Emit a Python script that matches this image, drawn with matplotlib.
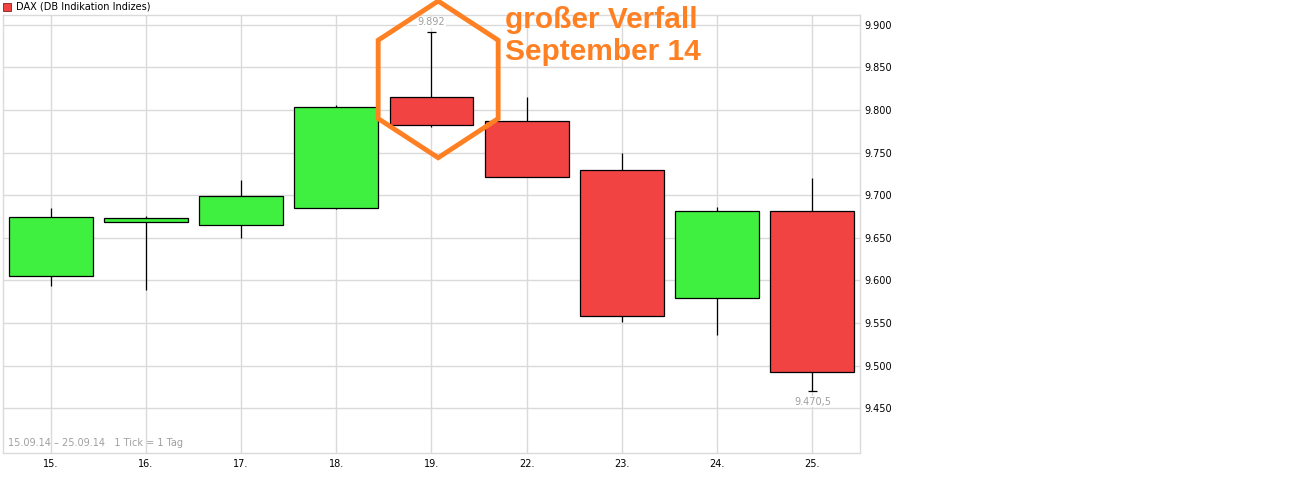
import matplotlib
matplotlib.use("Agg")
import matplotlib.pyplot as plt
from matplotlib.patches import Rectangle, Polygon
from matplotlib.ticker import FuncFormatter, FixedLocator

# DAX daily candles, 15.09.14 - 25.09.14
days = ["15.", "16.", "17.", "18.", "19.", "22.", "23.", "24.", "25."]
opens = [9605, 9669, 9665, 9685, 9815, 9787, 9730, 9579, 9681]
highs = [9685, 9675.5, 9718, 9806, 9892, 9815, 9749.5, 9686, 9720]
lows = [9593.5, 9589, 9650, 9684, 9780, 9721, 9551.5, 9536, 9470.5]
closes = [9674, 9673, 9699, 9804, 9783, 9721, 9558, 9681, 9493]
yticks = [9450, 9500, 9550, 9600, 9650, 9700, 9750, 9800, 9850, 9900]

GREEN = "#40F040"
RED = "#F24343"
ORANGE = "#FF8023"
GRID = "#DADADA"
W, H = 1289, 486

fig = plt.figure(figsize=(W / 100, H / 100), dpi=100)
ax = fig.add_axes([3 / W, (H - 453.3) / H, 857 / W, (453.3 - 15) / H])

x = list(range(len(days)))
body_lo = [min(o, c) for o, c in zip(opens, closes)]
body_h = [abs(c - o) for o, c in zip(opens, closes)]
colors = [GREEN if c >= o else RED for o, c in zip(opens, closes)]

ax.vlines(x, lows, highs, color="black", linewidth=0.9, zorder=2)
ax.bar(x, body_h, bottom=body_lo, width=0.88, color=colors,
       edgecolor="black", linewidth=0.9, zorder=3)

# extreme high / low markers
i_hi = highs.index(max(highs))
i_lo = lows.index(min(lows))
ax.hlines([highs[i_hi]], i_hi - 0.045, i_hi + 0.045, color="black", linewidth=0.9, zorder=2)
ax.hlines([lows[i_lo]], i_lo - 0.045, i_lo + 0.045, color="black", linewidth=0.9, zorder=2)
ax.text(i_hi, highs[i_hi] + 5, "9.892", color="#A0A0A0", fontsize=7,
        ha="center", va="bottom", zorder=4,
        bbox=dict(facecolor="white", edgecolor="none", pad=0.5))
ax.text(i_lo, lows[i_lo] - 7, "9.470,5", color="#A0A0A0", fontsize=7,
        ha="center", va="top", zorder=4,
        bbox=dict(facecolor="white", edgecolor="none", pad=0.5))

ax.set_xlim(-0.5, 8.5)
ax.set_ylim(9397, 9911.6)
ax.xaxis.set_major_locator(FixedLocator(x))
ax.set_xticklabels(days)
ax.yaxis.set_major_locator(FixedLocator(yticks))
ax.yaxis.set_major_formatter(FuncFormatter(lambda v, p: f"{int(v):,}".replace(",", ".")))
ax.yaxis.tick_right()
ax.tick_params(axis="both", length=0, labelsize=7, colors="black")
ax.tick_params(axis="y", pad=3)
ax.tick_params(axis="x", pad=4)
ax.grid(True, color=GRID, linewidth=1.0, zorder=0)
ax.set_axisbelow(True)
for s in ax.spines.values():
    s.set_color(GRID)
    s.set_linewidth(1.0)

ax.text(0.006, 0.024, "15.09.14 \u2013 25.09.14   1 Tick = 1 Tag", transform=ax.transAxes,
        color="#A0A0A0", fontsize=7, ha="left", va="center")

# hexagon highlight around 19.
cx, cy = 4.07, 9836
dx, dy1, dy2 = 0.63, 46, 92
hexagon = Polygon([(cx, cy + dy2), (cx - dx, cy + dy1), (cx - dx, cy - dy1),
                   (cx, cy - dy2), (cx + dx, cy - dy1), (cx + dx, cy + dy1)],
                  closed=True, fill=False, edgecolor=ORANGE, linewidth=3.5,
                  clip_on=False, zorder=5)
ax.add_patch(hexagon)

fig.text(505 / W, 1 - 6.5 / H, "großer Verfall\nSeptember 14", color=ORANGE,
         fontsize=21.5, fontweight="bold", family="Liberation Sans",
         ha="left", va="top", linespacing=1.18)

# title with red legend square
fig.add_artist(Rectangle((3 / W, 1 - 11 / H), 8 / W, 8 / H, transform=fig.transFigure,
                         facecolor=RED, edgecolor="#802020", linewidth=0.6))
fig.text(16 / W, 1 - 6.5 / H, "DAX (DB Indikation Indizes)", color="black",
         fontsize=7, ha="left", va="center")

fig.savefig("out.png", dpi=100, facecolor="white")
